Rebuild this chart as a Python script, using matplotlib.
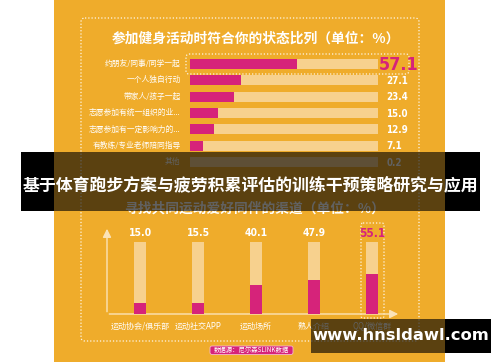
import matplotlib.pyplot as plt
from matplotlib.patches import FancyBboxPatch, Rectangle

plt.rcParams['font.family'] = ['Noto Sans CJK SC', 'DejaVu Sans']

# 上图：参加健身活动时符合你的状态比列
state_labels = ['约朋友/同事/同学一起', '一个人独自行动', '带家人/孩子一起',
                '志愿参加有统一组织的业...', '志愿参加有一定影响力的...',
                '有教练/专业老师陪同指导', '其他']
state_values = [57.1, 27.1, 23.4, 15.0, 12.9, 7.1, 0.2]

# 下图：寻找共同运动爱好同伴的渠道
channel_labels = ['运动协会/俱乐部', '运动社交APP', '运动场所', '熟人介绍', 'QQ/微信群']
channel_values = [15.0, 15.5, 40.1, 47.9, 55.1]

ORANGE = '#EFAC2B'
TRACK = '#F7D18E'
MAGENTA = '#D6237A'
W, H = 500, 362

fig = plt.figure(figsize=(5, 3.62), dpi=100)
fig.patch.set_facecolor('white')


def px_axes(zorder):
    ax = fig.add_axes([0, 0, 1, 1], zorder=zorder)
    ax.set_xlim(0, W)
    ax.set_ylim(H, 0)
    ax.axis('off')
    ax.patch.set_alpha(0)
    return ax


def frac(x0, y0, x1, y1):
    return [x0 / W, 1 - y1 / H, (x1 - x0) / W, (y1 - y0) / H]


def dotted_box(ax, x0, y0, x1, y1, r=4):
    ax.add_patch(FancyBboxPatch((x0, y0), x1 - x0, y1 - y0,
                                boxstyle=f'round,pad=0,rounding_size={r}',
                                fill=False, ec='white', lw=0.9,
                                ls=(0, (1, 1.6)), alpha=0.9))


def num(ax, x, y, txt, color, size, ha='left'):
    ax.text(x, y, txt, color=color, fontsize=size, fontweight='bold',
            family='DejaVu Sans', fontstretch='condensed',
            ha=ha, va='center', clip_on=False)


# background panel and frames
bg = px_axes(0)
bg.add_patch(Rectangle((54, 0), 391, H, color=ORANGE, lw=0))
dotted_box(bg, 81, 18, 419, 341)
dotted_box(bg, 186, 54, 409, 74, r=3)
dotted_box(bg, 361, 223, 384, 318, r=2)

bg.text(256, 39, '参加健身活动时符合你的状态比列（单位：%）', color='white',
        fontsize=9.9, fontweight='bold', ha='center', va='center')
bg.text(255, 209, '寻找共同运动爱好同伴的渠道（单位：%）', color='white',
        fontsize=9.9, fontweight='bold', ha='center', va='center')

# axis arrows of the lower chart
arrow = dict(arrowstyle='-|>,head_length=0.5,head_width=0.25', color='#FBE3B8', lw=1)
bg.annotate('', xy=(107, 226), xytext=(107, 314.5), arrowprops=arrow)
bg.annotate('', xy=(401, 314), xytext=(106.5, 314), arrowprops=arrow)

# source tag
bg.add_patch(FancyBboxPatch((210, 346), 83, 8.5, boxstyle='round,pad=0,rounding_size=2',
                            fc=MAGENTA, ec='#F5B6CF', lw=0.6))
bg.text(251.5, 350.3, '数据源：尼尔森SLINK数据', color='white', fontsize=4.6,
        ha='center', va='center')

# upper chart: horizontal bars
s = (162 - 64) / 6
ax1 = fig.add_axes(frac(190, 64 - s / 2, 378, 162 + s / 2), zorder=1)
ax1.patch.set_alpha(0)
ax1.axis('off')
rows = range(len(state_values))
ax1.barh(rows, [100] * len(state_values), height=0.6, color=TRACK, lw=0)
ax1.barh(rows, state_values, height=0.6, color=MAGENTA, lw=0)
ax1.set_xlim(0, 100)
ax1.set_ylim(len(state_values) - 0.5, -0.5)
for i, (lab, v) in enumerate(zip(state_labels, state_values)):
    ax1.text(-5, i, lab, color='white', fontsize=5.6, ha='right', va='center')
    if i == 0:
        num(ax1, 100.5, i + 0.05, f'{v:.1f}', MAGENTA, 13)
    else:
        num(ax1, 104.5, i + 0.05, f'{v:.1f}', 'white', 7)

# lower chart: vertical bars
ax2 = fig.add_axes(frac(107, 242, 398, 314), zorder=1)
ax2.patch.set_alpha(0)
ax2.axis('off')
cols = range(len(channel_values))
ax2.bar(cols, [100] * len(channel_values), width=0.22, color=TRACK, lw=0)
ax2.bar(cols, channel_values, width=0.22, color=MAGENTA, lw=0)
ax2.set_xlim(-0.57, 4.45)
ax2.set_ylim(0, 100)
for i, (lab, v) in enumerate(zip(channel_labels, channel_values)):
    last = i == len(channel_values) - 1
    num(ax2, i, 112, f'{v:.1f}', MAGENTA if last else 'white',
        8.5 if last else 7.5, ha='center')
    ax2.text(i, -17, lab, color='white', fontsize=5.8, ha='center', va='center',
             clip_on=False)

# overlay band and watermark
top = px_axes(5)
top.add_patch(Rectangle((54, 152), 391, 59, color='black', alpha=0.62, lw=0))
top.add_patch(Rectangle((21, 152), 33, 59, color='black', lw=0))
top.add_patch(Rectangle((445, 152), 35, 59, color='black', lw=0))
top.text(250, 185, '基于体育跑步方案与疲劳积累评估的训练干预策略研究与应用', color='white',
         fontsize=12.2, fontweight='bold', ha='center', va='center')
top.add_patch(Rectangle((311, 319), 134, 34, color='black', alpha=0.62, lw=0))
top.add_patch(Rectangle((445, 319), 46, 34, color='black', lw=0))
top.text(401, 335.5, 'www.hnsldawl.com', color='white', fontsize=11.8,
         fontweight='bold', family='DejaVu Sans', ha='center', va='center')

fig.savefig('out.png', dpi=100)
